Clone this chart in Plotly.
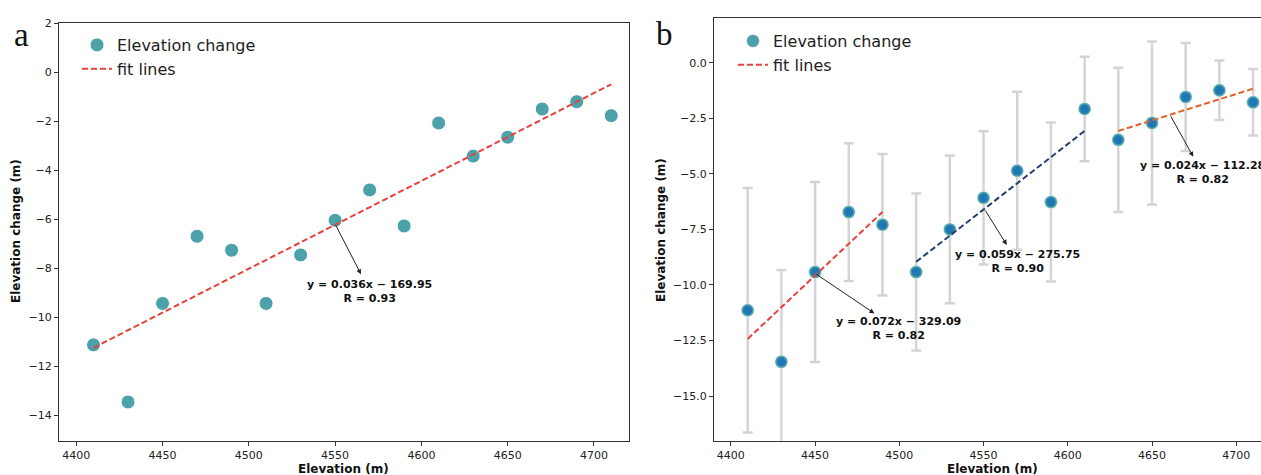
import plotly.graph_objects as go

# ---------------- data ----------------
elevation = [4410, 4430, 4450, 4470, 4490, 4510, 4530, 4550,
             4570, 4590, 4610, 4630, 4650, 4670, 4690, 4710]
change_a = [-11.13, -13.46, -9.44, -6.70, -7.27, -9.44, -7.46, -6.05,
            -4.81, -6.28, -2.08, -3.43, -2.66, -1.51, -1.21, -1.78]
change_b = [-11.14, -13.46, -9.42, -6.72, -7.29, -9.42, -7.50, -6.08,
            -4.86, -6.27, -2.08, -3.47, -2.71, -1.54, -1.24, -1.78]
error_b = [5.50, 4.13, 4.05, 3.10, 3.18, 3.53, 3.32, 3.00,
           3.56, 3.58, 2.35, 3.25, 3.67, 2.43, 1.34, 1.50]

fit_a_x = [4410, 4710]
fit_a_y = [-11.25, -0.50]

fit_b1_x = [4410, 4490]
fit_b1_y = [-12.43, -6.72]
fit_b2_x = [4510, 4610]
fit_b2_y = [-8.96, -3.07]
fit_b3_x = [4630, 4710]
fit_b3_y = [-3.07, -1.17]

eq_a = ["y = 0.036x − 169.95", "R = 0.93"]
eq_b = [["y = 0.072x − 329.09", "R = 0.82"],
        ["y = 0.059x − 275.75", "R = 0.90"],
        ["y = 0.024x − 112.28", "R = 0.82"]]

xticks = [4400, 4450, 4500, 4550, 4600, 4650, 4700]
yticks_a = [2, 0, -2, -4, -6, -8, -10, -12, -14]
yticks_a_text = ["2", "0", "−2", "−4", "−6", "−8", "−10", "−12", "−14"]
yticks_b = [0, -2.5, -5, -7.5, -10, -12.5, -15]
yticks_b_text = ["0.0", "−2.5", "−5.0", "−7.5", "−10.0", "−12.5", "−15.0"]

# ---------------- styles ----------------
TEAL = "#4da1a9"
BLUE = "#1f77b4"
RED = "#e8413e"
NAVY = "#24406e"
ORANGE = "#e0622b"
AX = "#333333"
W, H = 1261, 475
FONT = "DejaVu Sans"

fig = go.Figure()

# Panel a
fig.add_trace(go.Scatter(x=elevation, y=change_a, mode="markers", name="Elevation change",
                         marker=dict(color=TEAL, size=14, line=dict(color="white", width=1)),
                         xaxis="x", yaxis="y", legend="legend"))
fig.add_trace(go.Scatter(x=fit_a_x, y=fit_a_y, mode="lines", name="fit lines",
                         line=dict(color=RED, width=2, dash="6px,3px"),
                         xaxis="x", yaxis="y", legend="legend"))

# Panel b
fig.add_trace(go.Scatter(x=elevation, y=change_b, mode="markers", showlegend=False,
                         marker=dict(color=BLUE, size=1, opacity=0),
                         error_y=dict(type="data", array=error_b, color="#d4d4d4",
                                      thickness=2.5, width=5),
                         xaxis="x2", yaxis="y2"))
fig.add_trace(go.Scatter(x=elevation, y=change_b, mode="markers", name="Elevation change",
                         marker=dict(color=TEAL, size=13, line=dict(color="white", width=0.5)),
                         xaxis="x2", yaxis="y2", legend="legend2"))
fig.add_trace(go.Scatter(x=elevation, y=change_b, mode="markers", showlegend=False,
                         marker=dict(color=BLUE, size=9),
                         xaxis="x2", yaxis="y2"))
fig.add_trace(go.Scatter(x=fit_b1_x, y=fit_b1_y, mode="lines", name="fit lines",
                         line=dict(color=RED, width=2, dash="6px,3px"),
                         xaxis="x2", yaxis="y2", legend="legend2"))
fig.add_trace(go.Scatter(x=fit_b2_x, y=fit_b2_y, mode="lines", showlegend=False,
                         line=dict(color=NAVY, width=2, dash="6px,3px"),
                         xaxis="x2", yaxis="y2"))
fig.add_trace(go.Scatter(x=fit_b3_x, y=fit_b3_y, mode="lines", showlegend=False,
                         line=dict(color=ORANGE, width=2, dash="6px,3px"),
                         xaxis="x2", yaxis="y2"))

# ---------------- axes ----------------
def px_x(p):
    return p / W

def px_y(p):
    return (H - p) / H

axis_common = dict(showgrid=False, zeroline=False, showline=True, linecolor=AX, linewidth=1,
                   ticks="outside", ticklen=4, tickwidth=1, tickcolor=AX,
                   tickfont=dict(family=FONT, size=11, color="#222222"), automargin=False)

fig.update_layout(
    xaxis=dict(domain=[px_x(59), px_x(629)], range=[4390, 4720.3], anchor="y",
               tickvals=xticks, mirror=True, **axis_common),
    yaxis=dict(domain=[px_y(440.7), px_y(23)], range=[-15.04, 2.0], anchor="x",
               tickvals=yticks_a, ticktext=yticks_a_text, mirror=True, **axis_common),
    xaxis2=dict(domain=[px_x(714), 1.0], range=[4390, 4714.7], anchor="y2",
                tickvals=xticks, mirror=True, **axis_common),
    yaxis2=dict(domain=[px_y(440.7), px_y(18.3)], range=[-17.01, 2.0], anchor="x2",
                tickvals=yticks_b, ticktext=yticks_b_text, mirror=False, **axis_common),
)

# ---------------- annotations ----------------
ann = []
tfont = dict(family=FONT, size=12, color="#111111")
ann.append(dict(text="<b>Elevation (m)</b>", x=px_x(344), y=px_y(469), xref="paper", yref="paper",
                showarrow=False, font=tfont, xanchor="center", yanchor="middle"))
ann.append(dict(text="<b>Elevation (m)</b>", x=px_x(992), y=px_y(469), xref="paper", yref="paper",
                showarrow=False, font=tfont, xanchor="center", yanchor="middle"))
ann.append(dict(text="<b>Elevation change (m)</b>", x=px_x(16), y=px_y(231), xref="paper", yref="paper",
                showarrow=False, font=tfont, textangle=-90, xanchor="center", yanchor="middle"))
ann.append(dict(text="<b>Elevation change (m)</b>", x=px_x(661), y=px_y(230), xref="paper", yref="paper",
                showarrow=False, font=tfont, textangle=-90, xanchor="center", yanchor="middle"))
# panel letters
lfont = dict(family="Liberation Serif", size=33, color="#111111")
ann.append(dict(text="a", x=px_x(12), y=px_y(35), xref="paper", yref="paper", showarrow=False,
                font=lfont, xanchor="left", yanchor="middle"))
ann.append(dict(text="b", x=px_x(654), y=px_y(34), xref="paper", yref="paper", showarrow=False,
                font=lfont, xanchor="left", yanchor="middle"))

efont = dict(family=FONT, size=11, color="#111111")

def arrow(xr, yr, tail, head):
    return dict(x=head[0], y=head[1], ax=tail[0], ay=tail[1], xref=xr, yref=yr,
                axref=xr, ayref=yr, text="", showarrow=True, arrowhead=2, arrowsize=1,
                arrowwidth=1, arrowcolor="#222222")

def eqtext(xr, yr, x, y, lines):
    return dict(x=x, y=y, xref=xr, yref=yr, text="<b>" + "<br>".join(lines) + "</b>",
                showarrow=False, font=efont, align="center", xanchor="center", yanchor="middle")

ann.append(arrow("x", "y", (4550, -6.2), (4565, -8.25)))
ann.append(eqtext("x", "y", 4569.7, -8.97, eq_a))

ann.append(arrow("x2", "y2", (4450, -9.48), (4485.2, -11.28)))
ann.append(eqtext("x2", "y2", 4499.8, -11.98, eq_b[0]))
ann.append(arrow("x2", "y2", (4550.5, -6.58), (4563.8, -8.2)))
ann.append(eqtext("x2", "y2", 4570, -8.93, eq_b[1]))
ann.append(arrow("x2", "y2", (4660.7, -2.35), (4674.5, -4.23)))
ann.append(eqtext("x2", "y2", 4679.8, -4.96, eq_b[2]))

fig.update_layout(
    width=W, height=H, template="none",
    margin=dict(l=0, r=0, t=0, b=0, pad=0),
    paper_bgcolor="white", plot_bgcolor="white",
    annotations=ann,
    legend=dict(x=px_x(77), y=px_y(28), xanchor="left", yanchor="top",
                bgcolor="rgba(0,0,0,0)", font=dict(family=FONT, size=16, color="#222222")),
    legend2=dict(x=px_x(733), y=px_y(24), xanchor="left", yanchor="top",
                 bgcolor="rgba(0,0,0,0)", font=dict(family=FONT, size=16, color="#222222")),
)

fig.write_html("out.html",
               config={"displayModeBar": False},
               post_script="document.body.style.margin='0px';document.body.style.overflow='hidden';")
